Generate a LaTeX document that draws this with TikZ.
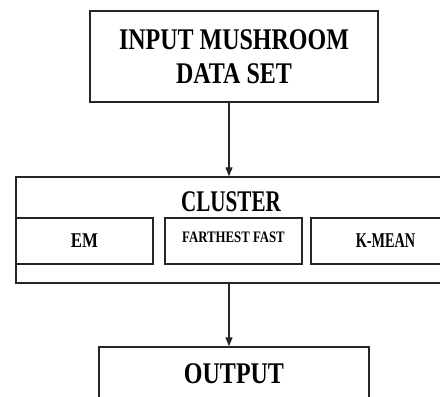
\documentclass[tikz,border=0pt]{standalone}
\usepackage{fontspec}
\newfontfamily\boxfont[FakeStretch=0.8]{Liberation Serif}
\usetikzlibrary{arrows.meta}

\tikzset{
  box/.style={draw=black!85, line width=1.4pt, inner sep=0pt},
  bigtext/.style={font=\boxfont\bfseries\fontsize{30}{34}\selectfont},
  smalltext/.style={font=\boxfont\bfseries\fontsize{21}{24}\selectfont},
  flow/.style={draw=black!85, line width=1.2pt, -{Triangle[length=9pt,width=7pt]}}
}

\begin{document}
\begin{tikzpicture}[x=1pt,y=-1pt]
        \useasboundingbox (0,0) rectangle (440,397);
        \clip (0,0) rectangle (440,397);

        % The input box
        \node[box, bigtext, align=center, minimum width=288pt, minimum height=91pt] (input) at (234,56.5) {INPUT MUSHROOM\\DATA SET};

        % The cluster box and its three methods
        \node[box, minimum width=450pt, minimum height=106pt] (cluster) at (241,230) {};
        \node[bigtext, anchor=base, inner sep=0pt] (clustertitle) at (231,211) {\scalebox{0.88}[1]{CLUSTER}};
        \node[box, smalltext, minimum width=137pt, minimum height=46pt] (em) at (84.5,241) {EM};
        \node[box, font=\boxfont\bfseries\fontsize{16}{18}\selectfont, text height=11pt, text depth=9pt, minimum width=137pt, minimum height=46pt] (farthest) at (233.5,241) {FARTHEST FAST};
        \node[box, smalltext, minimum width=149pt, minimum height=46pt] (kmean) at (385.5,241) {\scalebox{0.85}[1]{K-MEAN}};

        % The output box
        \node[box, bigtext, minimum width=270pt, minimum height=54pt] (output) at (234,374) {OUTPUT};

        % The arrows
        \coordinate (axis) at (229,0);
        \draw[flow] (input.south -| axis) -- (cluster.north -| axis);
        \draw[flow] (cluster.south -| axis) -- (output.north -| axis);
    \end{tikzpicture}
\end{document}
